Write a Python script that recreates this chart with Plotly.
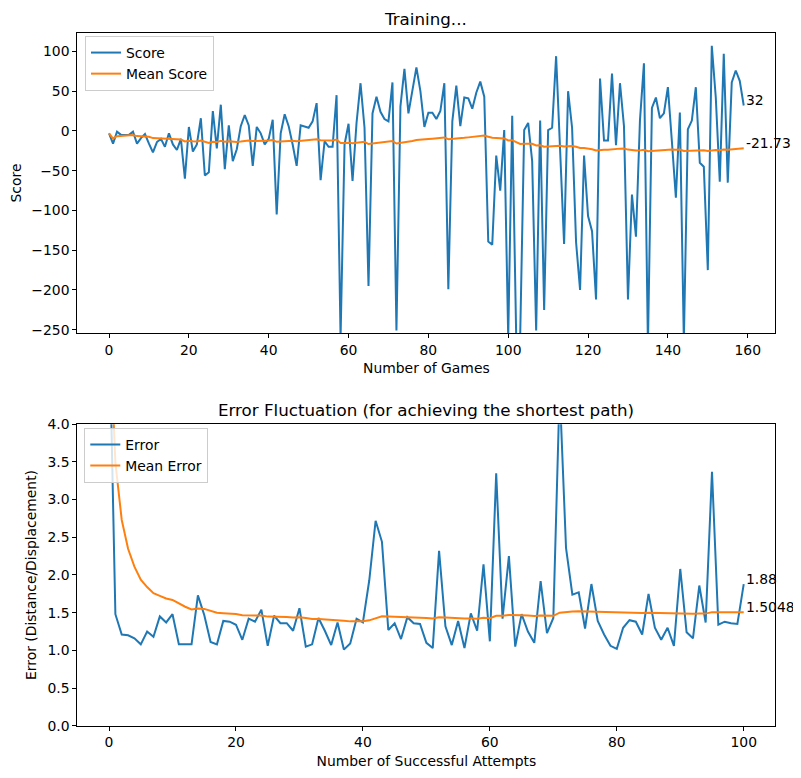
import plotly.graph_objects as go

# Top panel: score per game and its running mean
games = list(range(160))
scores = [
    -3, -16, -1, -5, -5, -5, -1, -16, -9, -4,
    -16, -27, -14, -10, -20, -3, -17, -24, -10, -60,
    5, -26, -17, 16, -56, -52, 25, -22, 33, -48,
    7, -38, -23, 6, 20, 7, -44, 5, -3, -17,
    -10, 14, -105, -3, 21, 6, -17, -44, 7, 5,
    4, 12, 35, -62, -13, -20, -20, 45, -260, -17,
    9, -63, 10, 60, 4, -195, 22, 43, 24, 15,
    12, 61, -251, 31, 78, 22, 50, 80, 50, 5,
    23, 23, 15, 25, 60, -199, 12, 57, 6, 42,
    41, 28, 48, 62, 43, -139, -143, -31, -75, 1,
    -260, 19, -258, -258, 1, 10, -38, -251, 13, -225,
    1, 4, 94, -30, -142, 50, 4, -140, -200, -31,
    -107, -126, -212, 66, -12, -12, 72, -18, 60, 6,
    -212, -80, -133, 13, 85, -270, 29, 42, 16, 22,
    55, -13, -84, 23, -265, 2, 13, 55, -40, -45,
    -175, 107, 42, -64, 97, -65, 61, 76, 63, 32,
]
mean_scores = [
    -3.0, -9.5, -6.67, -6.25, -6.0, -5.83, -5.14, -6.5, -6.78, -6.5,
    -7.36, -9.0, -9.38, -9.43, -10.13, -9.69, -10.12, -10.89, -10.84, -13.3,
    -12.43, -13.05, -13.22, -12.0, -13.76, -15.23, -13.74, -14.04, -12.41, -13.6,
    -12.94, -13.72, -14.0, -13.41, -12.46, -11.92, -12.78, -12.32, -12.08, -12.2,
    -12.15, -11.52, -13.7, -13.45, -12.69, -12.28, -12.38, -13.04, -12.63, -12.28,
    -11.96, -11.5, -10.62, -11.57, -11.6, -11.75, -11.89, -10.91, -15.14, -15.17,
    -14.77, -15.55, -15.14, -13.97, -13.69, -16.44, -15.87, -15.0, -14.43, -14.01,
    -13.65, -12.61, -15.88, -15.24, -14.0, -13.53, -12.7, -11.51, -10.73, -10.54,
    -10.12, -9.72, -9.42, -9.01, -8.2, -10.42, -10.16, -9.4, -9.22, -8.66,
    -8.11, -7.72, -7.12, -6.38, -5.86, -7.25, -8.65, -8.88, -9.55, -9.44,
    -11.92, -11.62, -14.01, -16.36, -16.19, -15.94, -16.15, -18.32, -18.04, -19.92,
    -19.73, -19.52, -18.51, -18.61, -19.69, -19.09, -18.89, -19.92, -21.43, -21.51,
    -22.21, -23.07, -24.6, -23.87, -23.78, -23.68, -22.93, -22.89, -22.25, -22.03,
    -23.48, -23.91, -24.73, -24.45, -23.64, -25.45, -25.05, -24.57, -24.27, -23.94,
    -23.38, -23.31, -23.73, -23.41, -25.08, -24.89, -24.63, -24.09, -24.2, -24.34,
    -25.34, -24.47, -24.03, -24.29, -23.51, -23.78, -23.24, -22.61, -22.07, -21.73,
]

# Bottom panel: error per successful attempt and its running mean
attempts = list(range(101))
errors = [
    5.5, 1.48, 1.21, 1.20, 1.16, 1.08, 1.25, 1.18, 1.45, 1.37,
    1.48, 1.08, 1.08, 1.08, 1.73, 1.47, 1.11, 1.08, 1.39, 1.38,
    1.34, 1.14, 1.42, 1.38, 1.54, 1.06, 1.46, 1.36, 1.36, 1.26,
    1.56, 1.05, 1.08, 1.43, 1.26, 1.07, 1.37, 1.01, 1.09, 1.42,
    1.37, 1.93, 2.72, 2.44, 1.27, 1.36, 1.15, 1.44, 1.36, 1.35,
    1.10, 1.03, 2.32, 1.32, 1.07, 1.39, 1.03, 1.49, 1.26, 2.14,
    1.12, 3.35, 1.42, 2.25, 1.05, 1.48, 1.25, 1.10, 1.92, 1.23,
    1.43, 4.475, 2.36, 1.74, 1.77, 1.29, 1.88, 1.39, 1.21, 1.06,
    1.02, 1.30, 1.40, 1.38, 1.21, 1.75, 1.30, 1.14, 1.30, 1.06,
    2.08, 1.24, 1.16, 1.86, 1.37, 3.37, 1.34, 1.38, 1.36, 1.35,
    1.88,
]
mean_errors = [
    5.5, 3.49, 2.73, 2.3475, 2.11, 1.938, 1.84, 1.7575, 1.7233, 1.688,
    1.669, 1.62, 1.5785, 1.5429, 1.5553, 1.55, 1.5241, 1.4994, 1.4937, 1.488,
    1.481, 1.4655, 1.4635, 1.46, 1.4632, 1.4477, 1.4481, 1.445, 1.4421, 1.436,
    1.44, 1.4278, 1.4173, 1.4176, 1.4131, 1.4036, 1.4027, 1.3924, 1.3846, 1.3855,
    1.3851, 1.3981, 1.4288, 1.4518, 1.4478, 1.4459, 1.4396, 1.4396, 1.438, 1.4362,
    1.4296, 1.4219, 1.4389, 1.4367, 1.43, 1.4293, 1.4223, 1.4234, 1.4207, 1.4327,
    1.4275, 1.4585, 1.4579, 1.4703, 1.4638, 1.4641, 1.4609, 1.4556, 1.4623, 1.459,
    1.4586, 1.5005, 1.5123, 1.5153, 1.5187, 1.5157, 1.5204, 1.5188, 1.5149, 1.5092,
    1.5032, 1.5007, 1.4995, 1.498, 1.4946, 1.4976, 1.4954, 1.4913, 1.4892, 1.4844,
    1.4909, 1.4882, 1.4847, 1.4887, 1.4874, 1.507, 1.5053, 1.504, 1.5026, 1.5011,
    1.5048,
]

blue = "#1f77b4"
orange = "#ff7f0e"
font = "DejaVu Sans"

fig = go.Figure()
fig.add_trace(go.Scatter(x=games, y=scores, mode="lines", name="Score",
                         line=dict(color=blue, width=2), legend="legend"))
fig.add_trace(go.Scatter(x=games, y=mean_scores, mode="lines", name="Mean Score",
                         line=dict(color=orange, width=2), legend="legend"))
fig.add_trace(go.Scatter(x=attempts, y=errors, mode="lines", name="Error",
                         line=dict(color=blue, width=2), xaxis="x2", yaxis="y2",
                         legend="legend2"))
fig.add_trace(go.Scatter(x=attempts, y=mean_errors, mode="lines", name="Mean Error",
                         line=dict(color=orange, width=2), xaxis="x2", yaxis="y2",
                         legend="legend2"))

axis_style = dict(showgrid=False, zeroline=False, showline=True, mirror=True,
                  linecolor="black", linewidth=1, ticks="outside", ticklen=4,
                  tickwidth=1, tickcolor="black", automargin=False,
                  tickfont=dict(family=font, size=13.9, color="black"),
                  title_font=dict(family=font, size=13.9, color="black"))

legend_style = dict(bgcolor="rgba(255,255,255,0.8)", bordercolor="#cccccc",
                    borderwidth=1, font=dict(family=font, size=13.9, color="black"),
                    xanchor="left", yanchor="top", itemwidth=30, tracegroupgap=0)

# the page body adds an 8px offset, so the figure is 8px smaller on each side
fig.update_layout(
    width=793, height=770,
    margin=dict(l=0, r=0, t=0, b=0, autoexpand=False),
    paper_bgcolor="white", plot_bgcolor="white",
    showlegend=True,
    xaxis=dict(domain=[0.0874, 0.9678], range=[-7.95, 166.95], dtick=20,
               title=dict(text="Number of Games", standoff=6), anchor="y", **axis_style),
    yaxis=dict(domain=[0.5775, 0.9679], range=[-254.5, 123.5], dtick=50,
               title=dict(text="Score", standoff=10), anchor="x", **axis_style),
    xaxis2=dict(domain=[0.0874, 0.9678], range=[-5, 105], dtick=20,
                title=dict(text="Number of Successful Attempts", standoff=6), anchor="y2",
                **axis_style),
    yaxis2=dict(domain=[0.0679, 0.4594], range=[0, 4], dtick=0.5, tickformat=".1f",
                title=dict(text="Error (Distance/Displacement)", standoff=7), anchor="x2",
                **axis_style),
    legend=dict(x=0.0971, y=0.9636, **legend_style),
    legend2=dict(x=0.0962, y=0.4546, **legend_style),
)

# Panel titles
fig.add_annotation(text="Training...", xref="paper", yref="paper",
                   x=0.527, y=0.9857, xanchor="center", yanchor="middle",
                   showarrow=False, font=dict(family=font, size=16.7, color="black"))
fig.add_annotation(text="Error Fluctuation (for achieving the shortest path)",
                   xref="paper", yref="paper", x=0.527, y=0.478,
                   xanchor="center", yanchor="middle", showarrow=False,
                   font=dict(family=font, size=16.7, color="black"))

# Last-value labels
end_font = dict(family=font, size=13.9, color="black")
fig.add_annotation(x=games[-1], y=scores[-1], xref="x", yref="y", text=str(scores[-1]),
                   showarrow=False, xanchor="left", yanchor="bottom", yshift=-5,
                   font=end_font)
fig.add_annotation(x=games[-1], y=mean_scores[-1], xref="x", yref="y",
                   text=str(mean_scores[-1]), showarrow=False, xanchor="left",
                   yanchor="bottom", yshift=-5, font=end_font)
fig.add_annotation(x=attempts[-1], y=errors[-1], xref="x2", yref="y2",
                   text=str(errors[-1]), showarrow=False, xanchor="left",
                   yanchor="bottom", yshift=-5, font=end_font)
fig.add_annotation(x=attempts[-1], y=mean_errors[-1], xref="x2", yref="y2",
                   text=str(mean_errors[-1]), showarrow=False, xanchor="left",
                   yanchor="bottom", yshift=-5, font=end_font)

fig.write_html("out.html")
